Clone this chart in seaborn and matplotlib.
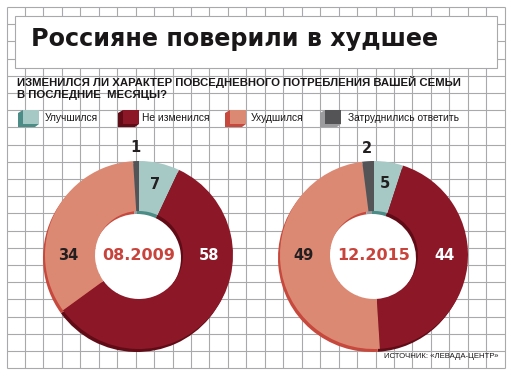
import numpy as np
import matplotlib
matplotlib.use("Agg")
import matplotlib.pyplot as plt
import matplotlib.patches as mpatches
import seaborn as sns

categories = ["Улучшился", "Не изменился", "Ухудшился", "Затруднились ответить"]
values_2009 = [7, 58, 34, 1]
values_2015 = [5, 44, 49, 2]
periods = ["08.2009", "12.2015"]

title = "Россияне поверили в худшее"
question = ["ИЗМЕНИЛСЯ ЛИ ХАРАКТЕР ПОВСЕДНЕВНОГО ПОТРЕБЛЕНИЯ ВАШЕЙ СЕМЬИ",
            "В ПОСЛЕДНИЕ  МЕСЯЦЫ?"]
source = "ИСТОЧНИК: «ЛЕВАДА-ЦЕНТР»"

sns.set_theme(style="white")
plt.rcParams["font.family"] = ["DejaVu Sans"]

front = sns.color_palette(["#a7c9c6", "#8c1727", "#dc8973", "#545457"])
side = sns.color_palette(["#4b8c86", "#600b16", "#c7483c", "#9c9c9e"])
label_colors = ["#231f20", "white", "#231f20", "#231f20"]
grid_color = "#a9a9ab"

W, H = 512, 376
fig = plt.figure(figsize=(W / 100, H / 100), dpi=100)
ax = fig.add_axes([0, 0, 1, 1])

# background grid
gx = 6.5 + 18.45 * np.arange(28)
gy = 7 + 17.2 * np.arange(22)
ax.vlines(gx, gy[0], gy[-1], color=grid_color, lw=0.8, zorder=0)
ax.hlines(gy, gx[0], gx[-1], color=grid_color, lw=0.8, zorder=0)

# title box
ax.add_patch(mpatches.Rectangle((15, 16), 482, 52, facecolor="white",
                                edgecolor=grid_color, lw=0.8, zorder=1))
ax.text(31, 39, title, fontsize=17.2, fontweight="bold", color="#1a1718",
        family=["DejaVu Sans"], va="center", ha="left", zorder=2)

for k, line in enumerate(question):
    ax.text(17, 86.5 + 11.5 * k, line, fontsize=8.2, fontweight="bold",
            color="#1a1718", family=["Liberation Sans", "DejaVu Sans"],
            va="baseline", ha="left", zorder=2)

# legend with little cubes
leg_x = [23, 123, 230, 325]
text_x = [45, 142, 251, 348]
for i, cat in enumerate(categories):
    x0 = leg_x[i]
    ax.add_patch(mpatches.Polygon([(x0, 110), (x0 - 5, 113), (x0 - 5, 127),
                                   (x0 + 12, 127), (x0 + 16, 124), (x0, 124)],
                                  closed=True, facecolor=side[i], lw=0, zorder=2))
    ax.add_patch(mpatches.Rectangle((x0, 110), 16, 14, facecolor=front[i],
                                    lw=0, zorder=3))
    ax.text(text_x[i], 118, cat, fontsize=7.4, color="#1a1718",
            family=["Liberation Sans", "DejaVu Sans"],
            va="center", ha="left", zorder=3)

# donuts
centers = [(139, 255), (374, 255)]
R, R_in = 94, 44
for (cx, cy), vals, period in zip(centers, [values_2009, values_2015], periods):
    ax.add_patch(mpatches.Circle((cx, cy), R_in, facecolor="white", lw=0, zorder=1))
    ax.pie(vals, colors=side, startangle=-90, counterclock=True,
           center=(cx - 2, cy + 3), radius=R, frame=True,
           wedgeprops=dict(width=R - R_in, lw=0, zorder=2))
    ax.pie(vals, colors=front, startangle=-90, counterclock=True,
           center=(cx, cy), radius=R, frame=True,
           wedgeprops=dict(width=R - R_in, lw=0, zorder=3))
    start = 0.0
    for i, v in enumerate(vals):
        mid = np.deg2rad((start + v / 2) * 3.6)
        start += v
        if v >= 20:
            ang = np.pi / 2 if np.sin(mid) > 0 else -np.pi / 2
            r = 0.75 * R
        elif v >= 4:
            ang, r = mid, 0.77 * R
        else:
            ang, r = mid, 1.14 * R
        ax.text(cx + r * np.sin(ang), cy - r * np.cos(ang), str(v),
                fontsize=10.5, fontweight="bold", color=label_colors[i],
                ha="center", va="center", zorder=5)
    ax.text(cx, cy, period, fontsize=11.5, fontweight="bold", color="#c8433b",
            ha="center", va="center", zorder=5)

ax.text(498, 356, source, fontsize=5.6, color="#1a1718",
        family=["Liberation Sans", "DejaVu Sans"],
        ha="right", va="center", zorder=5)

ax.set_xlim(0, W)
ax.set_ylim(H, 0)
ax.set_aspect("auto")
ax.axis("off")
fig.savefig("out.png", dpi=100, facecolor="white")
